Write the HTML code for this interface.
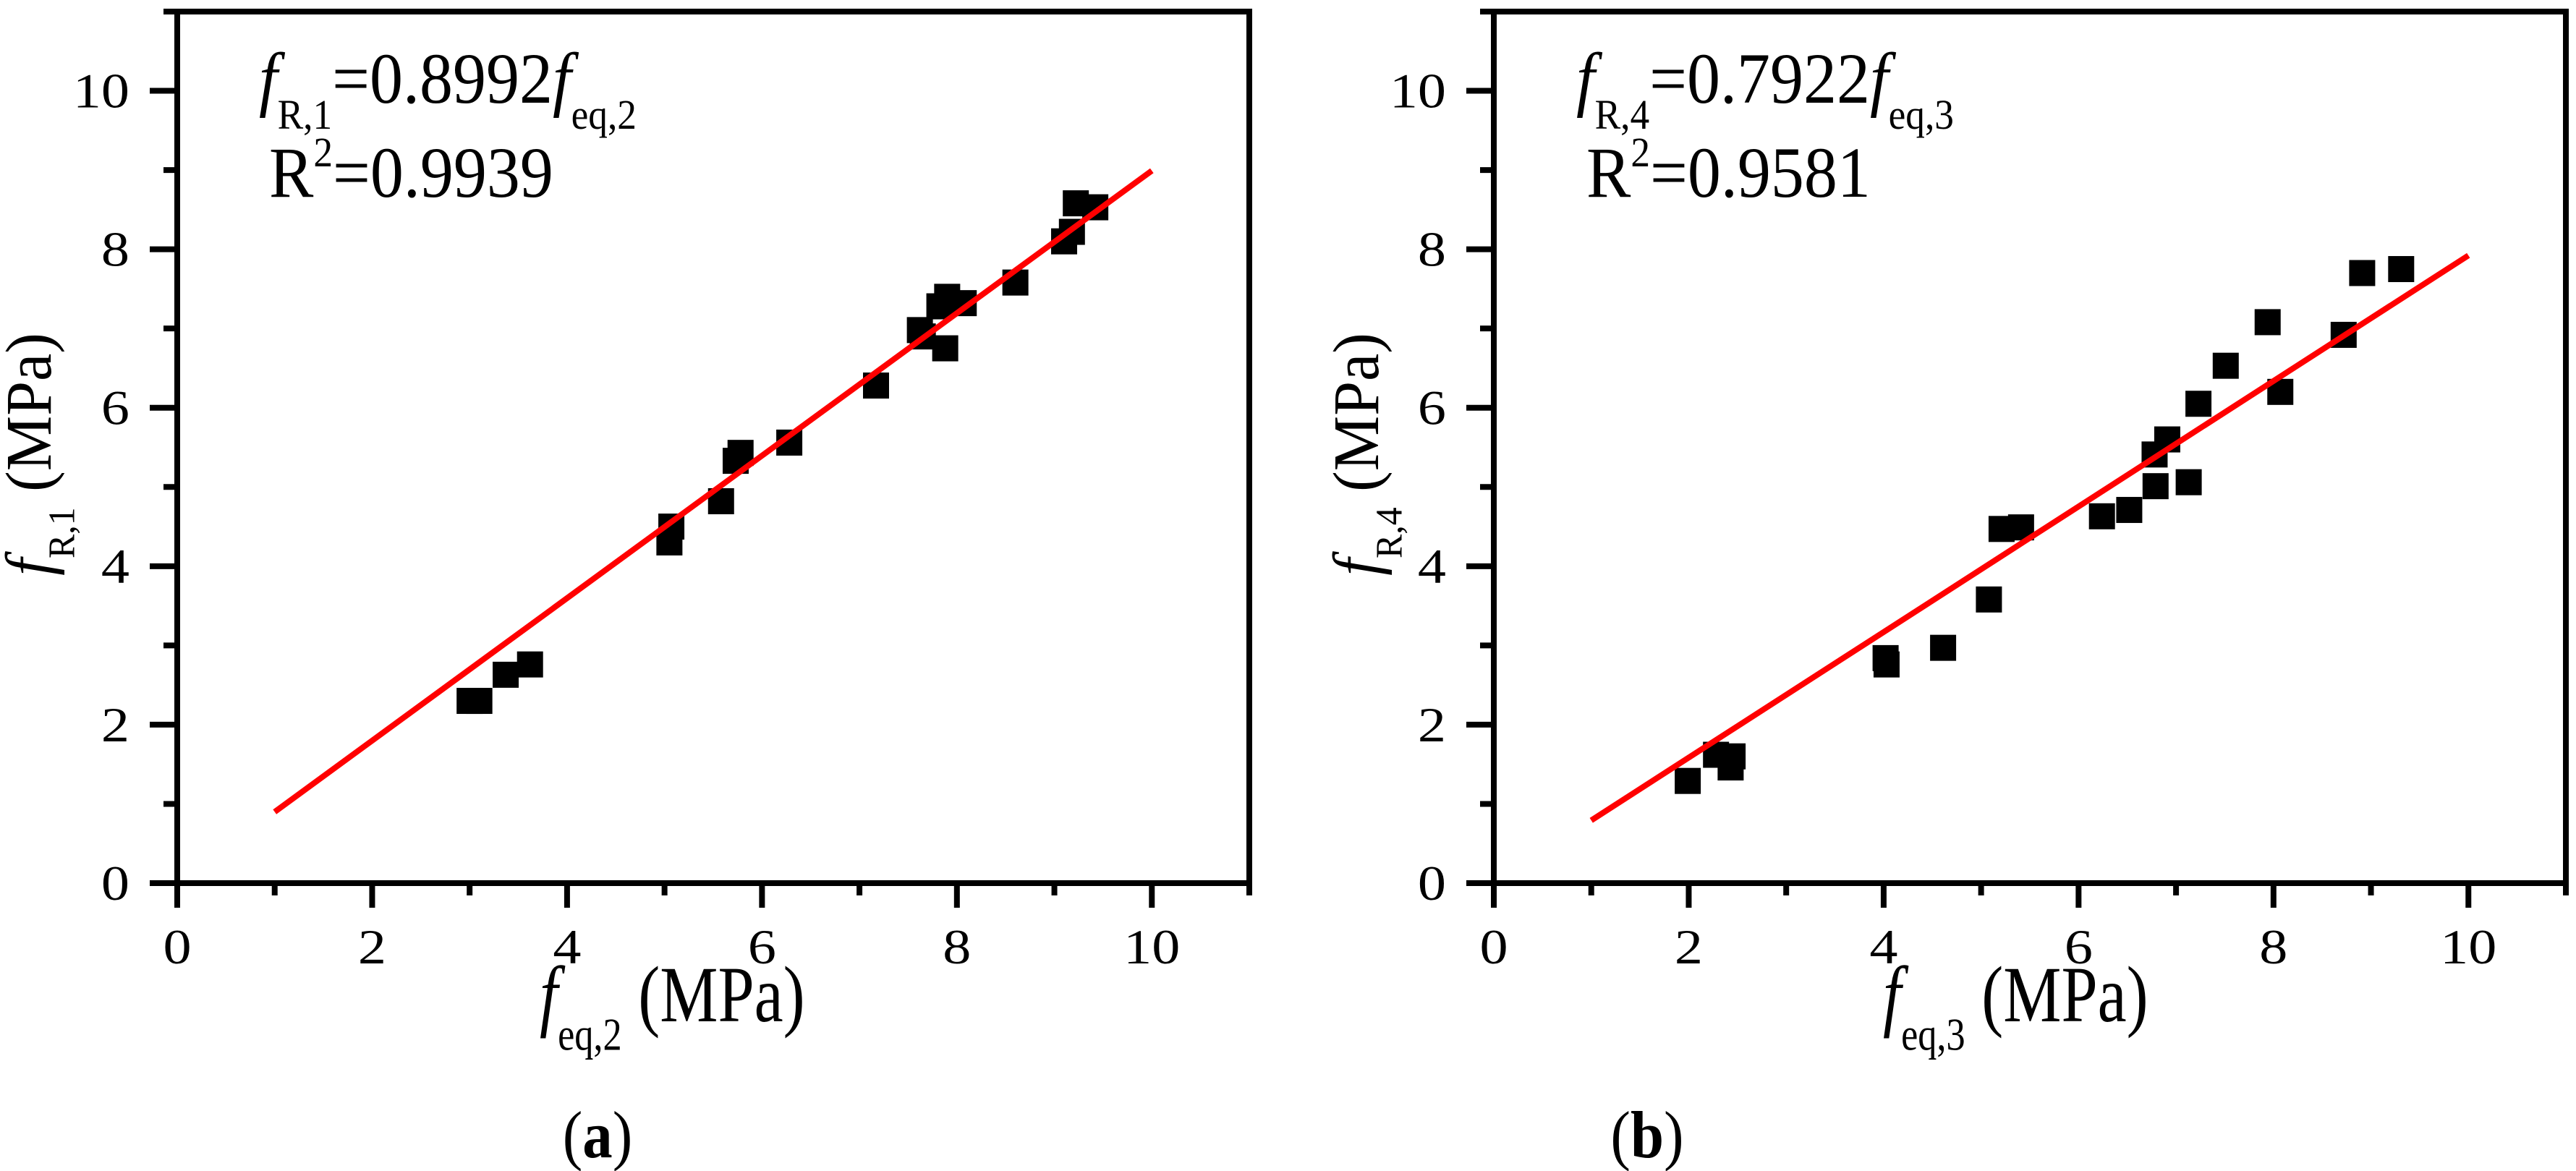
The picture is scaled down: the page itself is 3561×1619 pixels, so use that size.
<!DOCTYPE html>
<html><head><meta charset="utf-8"><style>
html,body{margin:0;padding:0;background:#fff;}
svg{display:block;font-family:"Liberation Serif",serif;}
</style></head><body>
<svg id="chart" width="3561" height="1619" viewBox="0 0 3561 1619" xmlns="http://www.w3.org/2000/svg">
<rect width="3561" height="1619" fill="#fff"/>
</svg>
<script>
// Panel (a) data
const aX = [3.0,3.1,3.37,3.62,5.05,5.07,5.58,5.73,5.78,6.28,7.17,7.62,7.65,7.82,7.9,7.88,8.07,8.6,9.1,9.18,9.22,9.42];
const aY = [2.3,2.3,2.63,2.76,4.3,4.5,4.82,5.33,5.43,5.56,6.28,6.98,6.9,7.28,7.4,6.75,7.32,7.58,8.1,8.22,8.58,8.53];
const aSlope = 0.8992;
// Panel (b) data
const bX = [1.99,2.28,2.45,2.43,4.02,4.03,4.61,5.08,5.21,5.41,6.24,6.52,6.79,6.78,6.91,7.13,7.23,7.51,7.94,8.07,8.72,8.91,9.31];
const bY = [1.29,1.62,1.6,1.46,2.84,2.76,2.97,3.58,4.47,4.49,4.63,4.71,5.01,5.41,5.6,5.06,6.05,6.53,7.08,6.2,6.92,7.7,7.75];
const bSlope = 0.7922;
const fitRange = [1,10];
const xTicks = [0,2,4,6,8,10];
const yTicks = [0,2,4,6,8,10];
const xMinor = [1,3,5,7,9,11];
const yMinor = [1,3,5,7,9,11];

const NS = "http://www.w3.org/2000/svg";
const svg = document.getElementById('chart');
function mk(tag, attrs, parent){
  const e = document.createElementNS(NS, tag);
  for (const k in attrs) e.setAttribute(k, attrs[k]);
  (parent||svg).appendChild(e);
  return e;
}
function stretchedText(parent, x, y, sx, rot, anchor, size, parts, name){
  const g = mk('g', {transform:`translate(${x},${y}) scale(${sx},1)` + (rot?` rotate(${rot})`:'')}, parent);
  
  
  const t = mk('text', {x:0, y:0, 'font-size':size, 'text-anchor':anchor, fill:'#000'}, g);
  let shift = 0;
  parts.forEach(p => {
    const ts = document.createElementNS(NS, 'tspan');
    ts.textContent = p.t;
    let target = p.sub ? size*0.36 : (p.sup ? -size*0.42 : 0);
    if (p.sub || p.sup) ts.setAttribute('font-size', size*0.58);
    if (p.i) ts.setAttribute('font-style', 'italic');
    if (p.b) ts.setAttribute('font-weight', 'bold');
    if (target !== shift) { ts.setAttribute('dy', target - shift); shift = target; }
    t.appendChild(ts);
  });
  return g;
}

function panel(cfg){
  const {L, R, T, B, xs, ys, slope, name} = cfg;
  const g = mk('g', {});
  
  
  const xmax = 11, ymax = 11;
  const X = v => L + (R-L)*v/xmax;
  const Y = v => B - (B-T)*v/ymax;
  const frame = mk('rect', {x:L, y:T, width:R-L, height:B-T, fill:'none', stroke:'#000', 'stroke-width':8}, g);
  
  
  xTicks.forEach(v => {
    const l = mk('line', {x1:X(v), x2:X(v), y1:B, y2:B+34, stroke:'#000', 'stroke-width':8}, g);
    
    
    stretchedText(g, X(v), B+111, 1.15, 0, 'middle', 68, [{t:String(v)}], 'x-tick-label');
  });
  xMinor.forEach(v => {
    const l = mk('line', {x1:X(v), x2:X(v), y1:B, y2:B+17, stroke:'#000', 'stroke-width':8}, g);
    
    
  });
  yTicks.forEach(v => {
    const l = mk('line', {x1:L-38, x2:L, y1:Y(v), y2:Y(v), stroke:'#000', 'stroke-width':8}, g);
    
    
    stretchedText(g, L-66, Y(v)+23, 1.15, 0, 'end', 68, [{t:String(v)}], 'y-tick-label');
  });
  yMinor.forEach(v => {
    const l = mk('line', {x1:L-19, x2:L, y1:Y(v), y2:Y(v), stroke:'#000', 'stroke-width':8}, g);
    
    
  });
  xs.forEach((v,i) => {
    const s = 36;
    const r = mk('rect', {x:X(v)-s/2, y:Y(ys[i])-s/2, width:s, height:s, fill:'#000'}, g);
    
    
  });
  const fl = mk('line', {x1:X(fitRange[0]), y1:Y(slope*fitRange[0]), x2:X(fitRange[1]), y2:Y(slope*fitRange[1]), stroke:'#ff0000', 'stroke-width':8}, g);
  
  
  stretchedText(g, L+cfg.annX, 142, 0.92, 0, 'start', 100, cfg.eq, 'fit-equation');
  stretchedText(g, L+cfg.annX+14, 272, 0.92, 0, 'start', 100, cfg.r2, 'r-squared');
  stretchedText(g, cfg.xtX, 1412, 0.82, 0, 'start', 110, cfg.xt, 'x-axis-title');
  stretchedText(g, cfg.ytX, 628, 1.05, -90, 'middle', 86, cfg.yt, 'y-axis-title');
  stretchedText(g, cfg.lblX, 1600, 0.9, 0, 'middle', 92, [{t:'('},{t:cfg.lbl,b:true},{t:')'}], 'panel-label');
}

panel({L:245, R:1727, T:16, B:1221, xs:aX, ys:aY, slope:aSlope, name:'panel-a', annX:113,
  eq:[{t:'f',i:true},{t:'R,1',sub:true},{t:'=0.8992'},{t:'f',i:true},{t:'eq,2',sub:true}],
  r2:[{t:'R'},{t:'2',sup:true},{t:'=0.9939'}],
  xt:[{t:'f',i:true},{t:'eq,2',sub:true},{t:' (MPa)'}], xtX:746,
  yt:[{t:'f',i:true},{t:'R,1',sub:true},{t:' (MPa)'}], ytX:70,
  lblX:826, lbl:'a'});
panel({L:2065, R:3547, T:16, B:1221, xs:bX, ys:bY, slope:bSlope, name:'panel-b', annX:114,
  eq:[{t:'f',i:true},{t:'R,4',sub:true},{t:'=0.7922'},{t:'f',i:true},{t:'eq,3',sub:true}],
  r2:[{t:'R'},{t:'2',sup:true},{t:'=0.9581'}],
  xt:[{t:'f',i:true},{t:'eq,3',sub:true},{t:' (MPa)'}], xtX:2603,
  yt:[{t:'f',i:true},{t:'R,4',sub:true},{t:' (MPa)'}], ytX:1905,
  lblX:2277, lbl:'b'});
</script>
</body></html>
